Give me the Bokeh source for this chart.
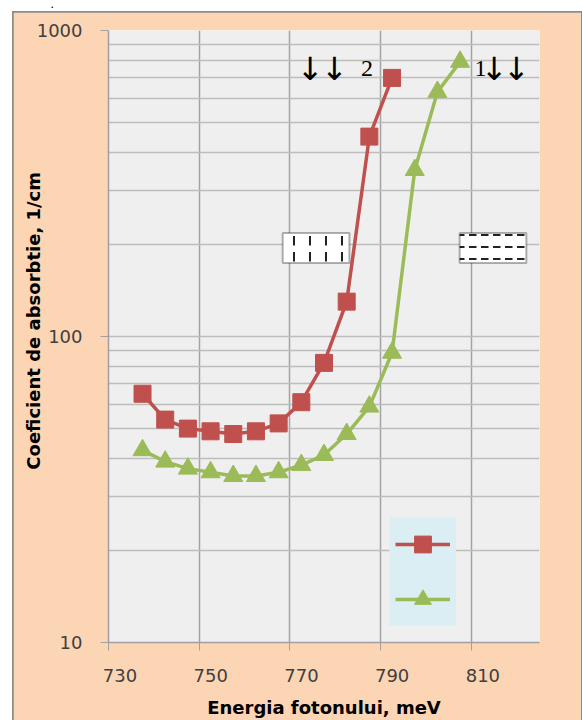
from bokeh.plotting import figure
from bokeh.models import (FixedTicker, Legend, LegendItem, BoxAnnotation,
                          ColumnDataSource, Range1d, Div)
from bokeh.layouts import column
from bokeh.core.properties import value
from bokeh.embed import file_html
from bokeh.resources import INLINE

# ---- data ----
energy_2 = [737.5, 742.5, 747.5, 752.5, 757.5, 762.5, 767.5, 772.5, 777.5, 782.5, 787.5, 792.5]
alpha_2 = [65, 53.5, 50, 49, 48, 49, 52, 61, 82, 130, 450, 700]

energy_1 = [737.5, 742.5, 747.5, 752.5, 757.5, 762.5, 767.5, 772.5, 777.5, 782.5,
            787.5, 792.5, 797.5, 802.5, 807.5]
alpha_1 = [42.5, 39, 37, 36, 35, 35, 36, 38, 41, 48, 59, 88.5, 350, 630, 790]

x_ticks = [730, 750, 770, 790, 810]
x_tick_labels = ["730", "750", "770", "790", "810"]
y_ticks = [10, 100, 1000]
y_tick_labels = ["10", "100", "1000"]
y_minor = [m * d for d in (10, 100) for m in range(2, 10)]

x_title = "Energia fotonului, meV"
y_title = "Coeficient de absorbtie, 1/cm"

curve_labels = ["2", "1"]
curve_label_x = [787.0, 812.0]
arrow_x = [774.45, 779.8, 815.0, 819.9]
label_y = 750

RED = "#C0504D"
GREEN = "#9BBB59"
PEACH = "#FCD5B4"
NB = "\u00a0"

p = figure(width=568, height=708,
           x_range=Range1d(730, 825), y_range=Range1d(10, 1000),
           y_axis_type="log", output_backend="svg", toolbar_location=None,
           min_border_left=95, min_border_right=42, min_border_top=18,
           min_border_bottom=78,
           background_fill_color="#EFEFEF", border_fill_color=PEACH,
           outline_line_color=None)
p.margin = (0, 1, 0, 13)
p.styles = {"outline": "2px solid #8C8C8C", "outline-offset": "-1px"}

# grids
p.xaxis.ticker = FixedTicker(ticks=x_ticks)
p.yaxis.ticker = FixedTicker(ticks=y_ticks, minor_ticks=y_minor)
p.xgrid.grid_line_color = "#A3A3A3"
p.xgrid.grid_line_width = 1.5
p.ygrid.grid_line_color = "#BDBDBD"
p.ygrid.grid_line_width = 1.5
p.ygrid.minor_grid_line_color = "#BDBDBD"
p.ygrid.minor_grid_line_width = 1.5

# axes
for ax in (p.xaxis[0], p.yaxis[0]):
    ax.axis_line_color = "#A0A0A0"
    ax.axis_line_width = 1.5
    ax.major_tick_line_color = "#A0A0A0"
    ax.major_tick_out = 8
    ax.major_tick_in = 0
    ax.minor_tick_out = 0
    ax.minor_tick_in = 0
    ax.minor_tick_line_color = None
    ax.major_label_text_font = "DejaVu Sans"
    ax.major_label_text_font_size = "18px"
    ax.major_label_text_color = "#404040"
    ax.axis_label_text_font = "DejaVu Sans"
    ax.axis_label_text_font_size = "18px"
    ax.axis_label_text_font_style = "bold"
    ax.axis_label_text_color = "#000000"

p.xaxis.major_label_overrides = {t: NB * 4 + s for t, s in zip(x_ticks, x_tick_labels)}
p.yaxis.major_label_overrides = dict(zip(y_ticks, y_tick_labels))
p.xaxis.major_label_standoff = 14
p.yaxis.major_label_standoff = 18
p.xaxis.axis_label = x_title
p.yaxis.axis_label = NB * 5 + y_title
p.xaxis.axis_label_standoff = 8
p.yaxis.axis_label_standoff = -10

# pattern boxes
box_a = BoxAnnotation(left=768.4, right=783.1, bottom=174, top=218,
                      fill_color="white", fill_alpha=1, line_color="black",
                      line_width=2, hatch_pattern="vertical_dash",
                      hatch_color="#222222", hatch_scale=16, hatch_weight=2)
box_b = BoxAnnotation(left=807.4, right=822.1, bottom=174, top=218,
                      fill_color="white", fill_alpha=1, line_color="black",
                      line_width=2, hatch_pattern="horizontal_dash",
                      hatch_color="#222222", hatch_scale=12, hatch_weight=2)
p.add_layout(box_a)
p.add_layout(box_b)

# series
r2_line = p.line(energy_2, alpha_2, line_color=RED, line_width=3.5)
r2_pts = p.scatter(energy_2, alpha_2, marker="square", size=17,
                   fill_color=RED, line_color=RED)
r1_line = p.line(energy_1, alpha_1, line_color=GREEN, line_width=3.5)
r1_pts = p.scatter(energy_1, alpha_1, marker="triangle", size=19,
                   fill_color=GREEN, line_color=GREEN)

# curve annotations
lab_src = ColumnDataSource(dict(x=curve_label_x, y=[label_y] * len(curve_label_x),
                                text=curve_labels))
p.text(x="x", y="y", text="text", source=lab_src, text_font=value("Liberation Serif"),
       text_font_size="24px", text_align="center", text_baseline="middle",
       text_color="black")
arr_src = ColumnDataSource(dict(x=arrow_x, y=[label_y] * len(arrow_x),
                                text=["\u2193"] * len(arrow_x)))
p.text(x="x", y="y", text="text", source=arr_src, text_font=value("DejaVu Sans"),
       text_font_size="32px", text_align="center", text_baseline="middle",
       text_color="black")

# legend (no text) on a light blue panel
legend_bg = BoxAnnotation(left=791.9, right=806.6, bottom=11.34, top=25.6,
                          fill_color="#DAEEF3", fill_alpha=1, line_color=None)
p.add_layout(legend_bg)
legend = Legend(items=[LegendItem(label=" ", renderers=[r2_line, r2_pts]),
                       LegendItem(label=" ", renderers=[r1_line, r1_pts])],
                location=(287, 22), background_fill_alpha=0,
                border_line_color=None,
                padding=0, spacing=13, glyph_width=55, glyph_height=42,
                label_standoff=0, label_width=0, label_height=0,
                label_text_font_size="1px", margin=0)
p.add_layout(legend)

dot = Div(text=".", width=100, height=12, margin=(0, 0, 0, 51),
          styles={"font-size": "9px", "line-height": "9px", "padding-top": "1px",
                  "font-weight": "bold", "color": "black"})

layout = column(dot, p, spacing=0)
open("out.html", "w").write(file_html(layout, INLINE))
